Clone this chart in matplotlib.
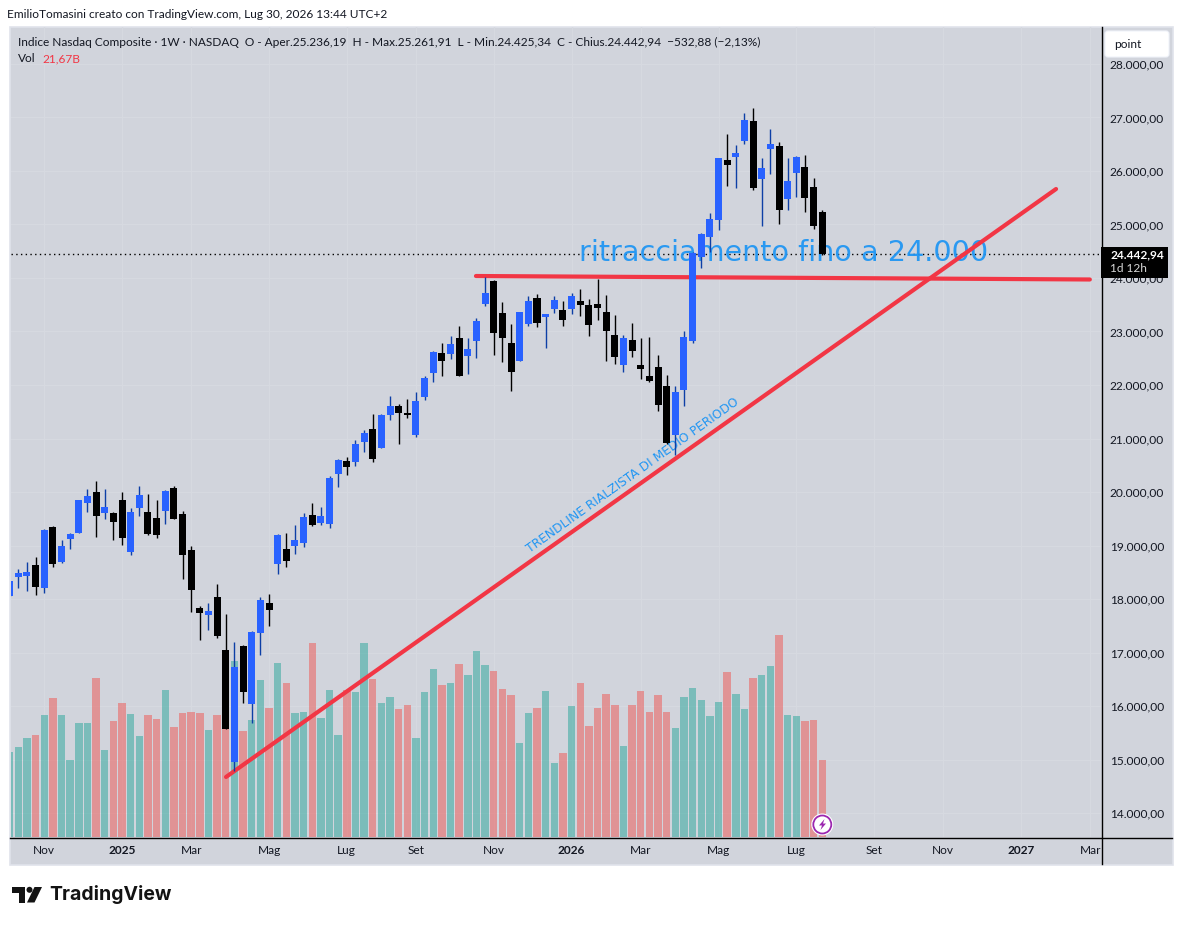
import matplotlib
matplotlib.use("Agg")
import matplotlib.pyplot as plt
from matplotlib.patches import Rectangle, FancyBboxPatch, Circle, Polygon
from matplotlib.lines import Line2D
from matplotlib.transforms import Affine2D

plt.rcParams['font.family'] = ['Lato', 'DejaVu Sans']

opens = [18063,18411,18430,18636,18206,19346,18692,19122,19234,19795,20000,19608,19608,19851,18879,19701,19626,19514,19645,20075,
         19589,18916,17832,17701,18038,17047,14954,17122,16038,17365,17926,18654,18935,18991,19047,19570,19421,19402,20336,20579,
         20561,20934,21177,20822,21439,21607,21458,21065,21775,22224,22598,22579,22878,22542,22822,23514,23944,23345,22785,22448,
         23140,23626,23271,23421,23402,23421,23570,23496,23514,23365,22935,22374,22841,22374,22169,22337,21982,21066,21907,22823,
         24393,24767,25084,26206,26262,26561,26935,25851,26411,26467,25477,25963,26075,25701,25236]
highs = [18337,18555,18692,18785,19302,19365,19103,19234,19851,20056,20206,20056,19626,20000,19701,20112,19963,19851,20037,20112,
         19645,18991,17869,17926,18281,17720,17197,17141,17402,18038,18094,19215,19234,19383,19607,19794,19720,20299,20617,20654,
         20972,21159,21458,21458,21794,21645,21738,21869,22168,22635,22785,22916,23102,22878,23252,24018,23962,23551,23140,23364,
         23663,23701,23327,23664,23570,23720,23795,23608,23982,23683,23309,22935,23159,22879,22898,22561,22187,21982,23010,24486,
         24841,25215,26243,26692,26486,27084,27178,26243,26785,26542,26243,26280,26299,25869,25262]
lows = [18063,18206,18150,18075,18112,18598,18673,18935,19234,19626,19159,19495,19103,19010,18823,19552,19196,19140,19402,19495,
        18374,17757,17234,17421,17271,15571,14786,16057,15683,16954,17496,18468,18598,18841,18972,19364,19383,19327,20093,20318,
        20486,20748,20561,20822,21346,20897,21383,21028,21719,22056,22168,22486,22168,22205,22504,23476,22560,22430,21888,22448,
        23102,23084,22691,23346,23103,23327,23290,22916,23215,22449,22393,22243,22524,22113,22057,21515,20898,20692,21608,22785,
        24187,24486,24897,25720,25682,26505,25645,24972,25944,25010,25271,25514,25234,24916,24425]
closes = [18337,18486,18505,18225,19290,18654,18991,19215,19851,19925,19552,19720,19439,19140,19626,19944,19215,19196,20019,19495,
          18823,18168,17739,17776,17309,15571,16729,16262,17384,17982,17795,19196,18711,19103,19533,19383,19551,20262,20598,20467,
          20897,21103,20617,21439,21607,21476,21439,21701,22131,22617,22448,22766,22168,22673,23196,23719,22972,22878,22243,23364,
          23570,23159,23327,23589,23215,23664,23496,23122,23440,23010,22524,22879,22636,22299,22075,21627,20916,21870,22898,24468,
          24823,25103,26243,26112,26337,26953,25682,26056,26505,25271,25813,26262,25495,24976,24443]
volumes_b = [23.9,25.3,27.9,28.7,34.3,39.1,34.3,21.7,32.1,32.1,44.7,24.5,32.6,37.7,34.6,28.4,34.3,33.2,41.4,31.0,
             34.9,35.2,34.9,30.1,34.3,40.2,49.5,29.8,32.9,44.2,36.3,49.0,43.3,34.9,35.2,54.6,33.5,41.4,28.7,41.4,
             40.8,54.6,44.5,37.7,39.4,36.0,37.1,27.9,40.8,47.3,42.8,43.3,48.7,45.6,52.3,48.4,46.7,41.6,40.0,26.5,
             34.9,36.3,41.1,20.8,23.6,36.9,43.3,31.2,36.3,40.2,37.1,25.6,37.1,41.1,35.2,40.0,35.2,30.7,39.4,41.9,
             38.6,34.1,38.0,46.4,40.2,36.0,44.7,45.6,48.1,56.8,34.3,34.1,32.6,32.9,21.67]
price_ticks = [14000,15000,16000,17000,18000,19000,20000,21000,22000,23000,24000,25000,26000,27000,28000]
price_labels = ['14.000,00','15.000,00','16.000,00','17.000,00','18.000,00','19.000,00','20.000,00','21.000,00',
                '22.000,00','23.000,00','24.000,00','25.000,00','26.000,00','27.000,00','28.000,00']
month_positions = [4,13,21,30,39,47,56,65,73,82,91,100,108,117,125]
month_labels = ['Nov','2025','Mar','Mag','Lug','Set','Nov','2026','Mar','Mag','Lug','Set','Nov','2027','Mar']
last_price = 24442.94
trend_x = [25.03, 121.04]
trend_y = [14674, 25663]
resist_x = [53.94, 124.95]
resist_y = [24037, 23972]

W, H = 1183, 925
BG = '#d1d4dc'
BLUE = '#2962ff'
BLUE_WICK = '#0d3fa6'
RED = '#f23645'
TEXTBLUE = '#2196f3'
INK = '#131722'
FS = 8.6

fig = plt.figure(figsize=(W/100, H/100), dpi=100, facecolor='white')
px = Affine2D().scale(1, -1).translate(0, H)

L, R, T, B = 11, 1101, 27, 837
rect = [L/W, 1-B/H, (R-L)/W, (B-T)/H]
xlim = (1+(L-18.3)/8.645, 1+(R-18.3)/8.645)
ylim = (13552, 28691)

fig.add_artist(Rectangle((9.5, 26.5), 1163, 838, transform=px, facecolor=BG, edgecolor='#e0e3eb', lw=1.2, zorder=-5))

# grid layer
grid_ax = fig.add_axes(rect, zorder=0)
grid_ax.patch.set_visible(False)
grid_ax.set_xlim(xlim); grid_ax.set_ylim(ylim)
grid_ax.set_xticks(month_positions); grid_ax.set_yticks(price_ticks)
grid_ax.grid(True, color='#d6d9e0', lw=1)
grid_ax.tick_params(length=0, labelbottom=False, labelleft=False)
for s in grid_ax.spines.values():
    s.set_visible(False)

# volume layer
vol_ax = fig.add_axes(rect, zorder=1)
vol_ax.patch.set_visible(False)
xs = list(range(len(opens)))
vol_colors = ['#26a69a' if c >= o else '#ef5350' for o, c in zip(opens, closes)]
vol_ax.bar(xs, volumes_b, width=0.86, color=vol_colors, alpha=0.5, lw=0)
vol_ax.set_xlim(xlim); vol_ax.set_ylim(0, 227.9)
vol_ax.axis('off')

# price layer
ax = fig.add_axes(rect, zorder=2)
ax.patch.set_visible(False)
ax.set_xlim(xlim); ax.set_ylim(ylim)

ax.axhline(last_price, color='black', lw=1, ls=(0, (1, 2.4)), zorder=1)
ax.text(784, 253, 'ritracciamento fino a 24.000', transform=px, color=TEXTBLUE, fontsize=20.6,
        family='DejaVu Sans', ha='center', va='center', alpha=0.95, zorder=1.5)
ax.text(633, 475, 'TRENDLINE RIALZISTA DI MEDIO PERIODO', transform=px, color=TEXTBLUE, fontsize=8.8,
        family='DejaVu Sans', ha='center', va='center', rotation=35.5, rotation_mode='anchor', zorder=1.5)
ax.plot(trend_x, trend_y, color=RED, lw=3.0, solid_capstyle='round', zorder=1.6)
ax.plot(resist_x, resist_y, color=RED, lw=3.0, solid_capstyle='round', zorder=1.6)

for x, o, h, l, c in zip(xs, opens, highs, lows, closes):
    up = c >= o
    ax.vlines(x, l, h, color=BLUE_WICK if up else 'black', lw=1, zorder=2)
    lo, hi = sorted((o, c))
    ax.bar(x, max(hi-lo, 40), bottom=lo, width=0.81, color=BLUE if up else 'black', lw=0, zorder=2.2)

ax.yaxis.tick_right()
ax.set_yticks(price_ticks, price_labels)
ax.set_xticks(month_positions, month_labels)
ax.tick_params(axis='y', length=0, pad=6.2, labelsize=FS, labelcolor=INK)
ax.tick_params(axis='x', length=0, pad=6, labelsize=FS, labelcolor=INK)
for lab in ax.get_xticklabels():
    if lab.get_text().isdigit():
        lab.set_fontweight('bold')
for name, s in ax.spines.items():
    s.set_visible(False)

fig.add_artist(Line2D([10, 1172], [837.5, 837.5], transform=px, color='black', lw=1, zorder=3))
fig.add_artist(Line2D([1101.5, 1101.5], [27, 864], transform=px, color='black', lw=1, zorder=3))

def ptext(x, y, s, **kw):
    kw.setdefault('color', INK); kw.setdefault('fontsize', FS); kw.setdefault('va', 'center')
    return ax.text(x, y, s, transform=px, clip_on=False, zorder=6, **kw)

ptext(7, 15, 'EmilioTomasini creato con TradingView.com, Lug 30, 2026 13:44 UTC+2')
ptext(18, 42, 'Indice Nasdaq Composite · 1W · NASDAQ  O - Aper.25.236,19  H - Max.25.261,91  L - Min.24.425,34  C - Chius.24.442,94  −532,88 (−2,13%)')
ptext(18, 59, 'Vol')
ptext(42, 59, '21,67B', color='#f23645')

ax.add_patch(FancyBboxPatch((1107, 33), 60, 22, boxstyle='round,pad=2,rounding_size=3', transform=px,
                            facecolor='white', edgecolor='#f0f3fa', lw=0.8, clip_on=False, zorder=5))
ptext(1114, 44, 'point')

ax.add_patch(Rectangle((1101, 247), 67, 30.5, transform=px, facecolor='black', lw=0, clip_on=False, zorder=5))
ptext(1110, 255, '24.442,94', color='white', fontweight='bold')
ptext(1110, 269, '1d 12h', color='#d6d6d6')

ax.add_patch(Circle((822.3, 824.5), 11, transform=px, facecolor='white', lw=0, clip_on=False, zorder=5))
ax.add_patch(Circle((822.3, 824.5), 9, transform=px, facecolor='white', edgecolor='#9c27b0', lw=1.3, clip_on=False, zorder=5.5))
ax.add_patch(Polygon([(824.5, 819), (819, 825.5), (822, 825.5), (820.5, 830), (826, 823.5), (823, 823.5)], closed=True,
                     transform=px, facecolor='#9c27b0', lw=0, clip_on=False, zorder=6))

# TradingView logo
logo = '#131313'
ax.add_patch(Polygon([(12, 887), (25, 887), (25, 902.5), (19, 902.5), (19, 893), (12, 893)], closed=True, transform=px,
                     facecolor=logo, lw=0, clip_on=False, zorder=6))
ax.add_patch(Circle((29.5, 889.8), 3, transform=px, facecolor=logo, lw=0, clip_on=False, zorder=6))
ax.add_patch(Polygon([(34.5, 887), (42, 887), (34.5, 902.5), (27, 902.5)], closed=True, transform=px,
                     facecolor=logo, lw=0, clip_on=False, zorder=6))
ptext(49, 895, 'TradingView', color=logo, fontsize=14, fontweight='bold', family='Inter')

fig.savefig('out.png', dpi=100, facecolor='white')
